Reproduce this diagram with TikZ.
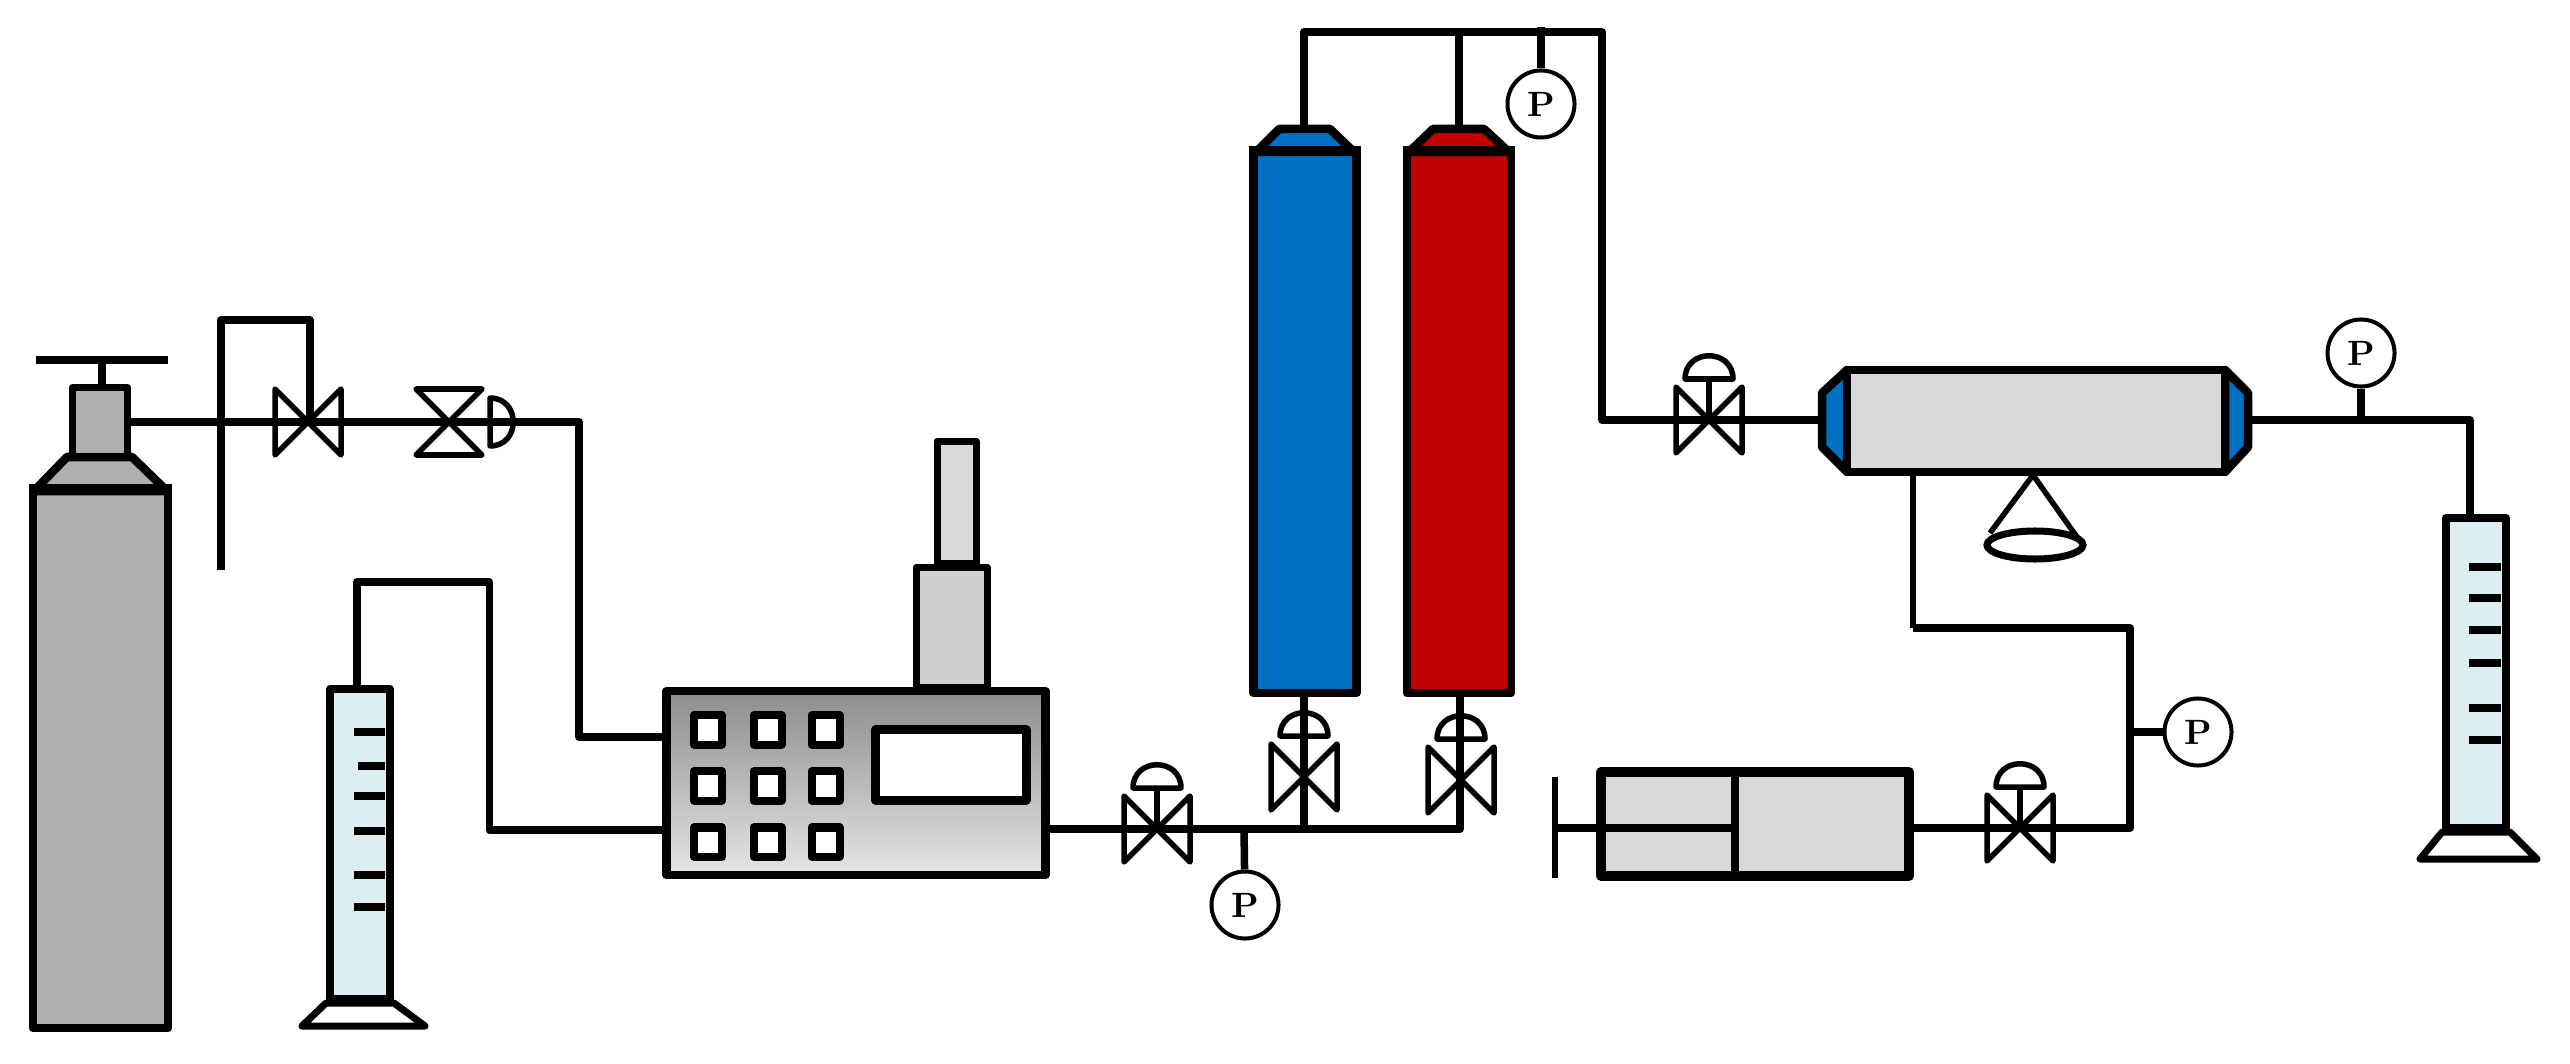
\documentclass[tikz,border=0pt]{standalone}
\usepackage{tikz}
\usetikzlibrary{positioning}
\definecolor{gasgray}{HTML}{B0B0B0}
\definecolor{lightbody}{HTML}{D9D9D9}
\definecolor{towergray}{HTML}{CFCFCF}
\definecolor{columnblue}{HTML}{0070C0}
\definecolor{columnred}{HTML}{C00000}
\definecolor{gradfill}{HTML}{DCEEF0}
\tikzstyle{pipe} = [line width=0.075cm,
					line join=round]
\tikzstyle{body} = [draw=black,
					line width=0.085cm,
					line join=round,
					inner sep=0pt]
\tikzstyle{gauge} = [draw=black,
					 circle,
					 fill=white,
					 line width=0.04cm,
					 inner sep=0pt,
					 minimum size=0.67cm,
					 font=\bfseries]
\tikzstyle{button} = [body,
					  fill=white,
					  line width=0.08cm,
					  minimum width=0.28cm,
					  minimum height=0.29cm]
\tikzstyle{gradtube} = [body,
						fill=gradfill,
						line width=0.08cm,
						minimum width=0.6cm,
						minimum height=3.1cm]
\tikzstyle{valveline} = [line width=0.055cm,
						 line join=round]
\tikzset{
	valve/.pic={
		\draw[valveline] (-33,-33) -- (33,33) -- (33,-33) -- (-33,33) -- cycle;
	},
	actvalve/.pic={
		\draw[valveline] (-33,-33) -- (33,33) -- (33,-33) -- (-33,33) -- cycle;
		\draw[valveline] (0,0) -- (0,-41);
		\draw[valveline] (-24,-41) .. controls (-24,-72) and (24,-72) .. (24,-41) -- cycle;
	}
}

\begin{document}
\begin{tikzpicture}[x=0.01cm,y=-0.01cm]
	\useasboundingbox (0,0) rectangle (2570,1064);

	%%%%%%%%%%%%%%%%%
	% GAS CYLINDER  %
	%%%%%%%%%%%%%%%%%
	\node[body, fill=gasgray, minimum width=1.35cm, minimum height=5.4cm] (gas) at (100.5,758) {};
	\draw[body, fill=gasgray] (34,491) -- (67,457) -- (132,457) -- (167,491) -- cycle;
	\draw[line width=0.1cm] ([yshift=-0.05cm]gas.north west) -- ([yshift=-0.05cm]gas.north east);
	\node[body, fill=gasgray, line width=0.07cm, minimum width=0.55cm, minimum height=0.69cm] (neck) at (100,422) {};
	\coordinate (handle) at (102,360);
	\draw[pipe] (102,389) -- (handle);
	\draw[pipe] (36,360) -- (168,360);

	%%%%%%%%%%%%%%%%%
	% LEFT BURETTE  %
	%%%%%%%%%%%%%%%%%
	\node[gradtube] (gradL) at (360,844) {};
	\draw[body, fill=white, line width=0.07cm] (gradL.south west) -- (302,1026) -- (425,1026) -- (gradL.south east) -- cycle;
	\foreach \tick/\xs in {732/354,766/358,796/354,831/354,875/354,907/354}
		\draw[pipe] (\xs,\tick) -- (385,\tick);

	%%%%%%%%%%%%%%%%%
	% PUMP          %
	%%%%%%%%%%%%%%%%%
	\node[body, top color=black!45, bottom color=black!10, minimum width=3.79cm, minimum height=1.84cm] (panel) at (856,783) {};
	\foreach \cx/\xb in {a/708,b/767.5,c/825.5}
		\foreach \ry/\yb in {1/730,2/786,3/842}
			\node[button] (btn\cx\ry) at (\xb,\yb) {};
	\node[body, fill=white, line width=0.09cm, minimum width=1.5cm, minimum height=0.7cm] (screen) at (951,765) {};
	\node[body, fill=towergray, line width=0.07cm, minimum width=0.71cm, minimum height=1.2cm, above=-0.04cm of panel, xshift=0.955cm] (towerlow) {};
	\node[body, fill=lightbody, line width=0.07cm, minimum width=0.39cm, minimum height=1.22cm, above=-0.03cm of towerlow, xshift=0.05cm] (towerup) {};

	%%%%%%%%%%%%%%%%%
	% COLUMNS       %
	%%%%%%%%%%%%%%%%%
	\node[body, fill=columnblue, minimum width=1.03cm, minimum height=5.43cm] (blue) at (1305,421.5) {};
	\draw[body, fill=columnblue] (1256,152) -- (1279,129) -- (1330,129) -- (1354,152) -- cycle;
	\draw[line width=0.1cm] ([yshift=-0.05cm]blue.north west) -- ([yshift=-0.05cm]blue.north east);
	\node[body, fill=columnred, minimum width=1.04cm, minimum height=5.43cm] (red) at (1459,421.5) {};
	\draw[body, fill=columnred] (1409,152) -- (1433,129) -- (1484,129) -- (1509,152) -- cycle;
	\draw[line width=0.1cm] ([yshift=-0.05cm]red.north west) -- ([yshift=-0.05cm]red.north east);

	%%%%%%%%%%%%%%%%%
	% VESSEL        %
	%%%%%%%%%%%%%%%%%
	\draw[body, fill=columnblue] (1847,370) -- (1822,393) -- (1822,447) -- (1847,472) -- cycle;
	\draw[body, fill=columnblue] (2225,370) -- (2248,393) -- (2248,447) -- (2225,472) -- cycle;
	\node[body, fill=lightbody, minimum width=3.78cm, minimum height=1.02cm] (vessel) at (2036,421) {};
	\draw[valveline] (2033,475) -- (1990,533) (2033,475) -- (2079,540);
	\draw[line width=0.07cm] (2035,545) ellipse[x radius=0.48cm, y radius=0.14cm];

	%%%%%%%%%%%%%%%%%
	% SYRINGE       %
	%%%%%%%%%%%%%%%%%
	\node[body, fill=lightbody, line width=0.095cm, minimum width=3.08cm, minimum height=1.04cm] (syringe) at (1755,824) {};
	\draw[pipe] (1735,773) -- (1735,875);
	\draw[pipe] (1555,828) -- (1735,828);
	\draw[valveline] (1555,777) -- (1555,878);

	%%%%%%%%%%%%%%%%%
	% RIGHT BURETTE %
	%%%%%%%%%%%%%%%%%
	\node[gradtube] (gradR) at (2476,673) {};
	\draw[body, fill=white, line width=0.07cm] (gradR.south west) -- (2420,859) -- (2537,859) -- (gradR.south east) -- cycle;
	\foreach \tick in {567,598,630,663,708,740}
		\draw[pipe] (2469,\tick) -- (2501,\tick);

	%%%%%%%%%%%%%%%%%
	% GAUGES        %
	%%%%%%%%%%%%%%%%%
	\node[gauge] (pBottom) at (1245,905) {P};
	\node[gauge] (pTop) at (1541,104) {P};
	\node[gauge] (pVessel) at (2361,353) {P};
	\node[gauge] (pRight) at (2198,732) {P};

	%%%%%%%%%%%%%%%%%
	% PIPES         %
	%%%%%%%%%%%%%%%%%
	\coordinate (elbowA) at (579,422);
	\coordinate (elbowB) at (579,737);
	\coordinate (v1) at (308,422);
	\coordinate (v2) at (449,422);
	\coordinate (v3) at (1157,829);
	\coordinate (v4) at (1304,777);
	\coordinate (v5) at (1461,780);
	\coordinate (v6) at (1709,420);
	\coordinate (v7) at (2020,828);
	\coordinate (rowJoin) at (1460,829);
	\coordinate (topL) at (1304,32);
	\coordinate (topR) at (1602,32);
	\coordinate (capBlue) at (1304,129);
	\coordinate (capRed) at (1459,129);
	\coordinate (inletL) at (1822,420);
	\coordinate (outletR) at (2248,420);
	\coordinate (outElbow) at (2470,420);
	\coordinate (drain) at (1913,628);
	\coordinate (drainR) at (2130,628);
	\coordinate (syrOut) at (2130,828);

	\draw[pipe] (neck.east) -- (elbowA) -- (elbowB) -- (elbowB -| panel.west);
	\draw[pipe] (221,570) -- (221,320) -- (310,320) -- (310,422);
	\draw[pipe] (gradL.north -| 357,0) -- (357,582) -- (489.5,582) -- (489.5,830) -- (panel.west |- 489.5,830);
	\draw[pipe] (panel.east |- rowJoin) -- (rowJoin) -- (red.south -| rowJoin);
	\draw[pipe] (blue.south -| topL) -- (topL |- rowJoin);
	\draw[pipe] (1244,829) -- (pBottom);
	\draw[pipe] (capBlue) -- (topL) -- (topR) -- (1602,420) -- (inletL);
	\draw[pipe] (capRed) -- (capRed |- topL);
	\draw[pipe] (1541,27) -- (pTop);
	\draw[pipe] (outletR) -- (outElbow) -- (gradR.north -| outElbow);
	\draw[pipe] (2361,420) -- (pVessel);
	\draw[valveline] (drain |- vessel.south) -- (drain);
	\draw[pipe] (drain) -- (drainR) -- (syrOut) -- (syrOut -| syringe.east);
	\draw[pipe] (2130,732) -- (pRight);

	%%%%%%%%%%%%%%%%%
	% VALVES        %
	%%%%%%%%%%%%%%%%%
	\pic at (v1) {valve};
	\pic[rotate=-90] at (v2) {actvalve};
	\pic at (v3) {actvalve};
	\pic at (v4) {actvalve};
	\pic at (v5) {actvalve};
	\pic at (v6) {actvalve};
	\pic at (v7) {actvalve};
\end{tikzpicture}
\end{document}
